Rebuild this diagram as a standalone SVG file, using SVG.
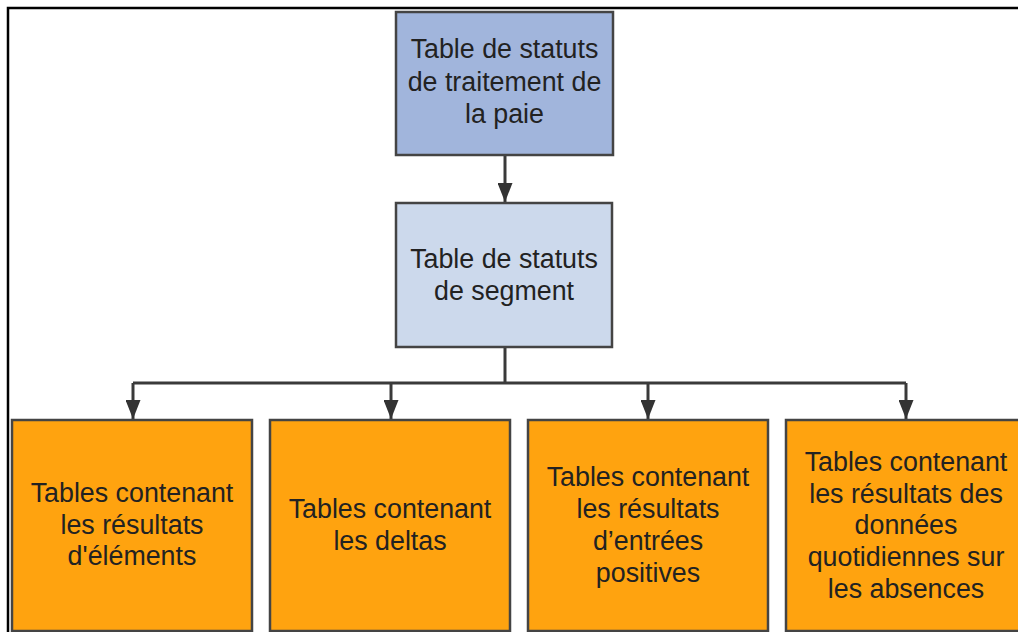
<svg xmlns="http://www.w3.org/2000/svg" width="1018" height="632" viewBox="0 0 1018 632">
  <style>
    .box { stroke: #444444; stroke-width: 2.5; }
    .top { fill: #A1B5DC; }
    .mid { fill: #CCD9EC; }
    .leaf { fill: #FFA30F; }
    .lbl { font-family: "Liberation Sans", Arial, sans-serif; font-size: 26.8px; fill: #222222; text-anchor: middle; }
    .conn { stroke: #3a3a3a; stroke-width: 3; fill: none; }
  </style>
  <defs>
    <marker id="arr" viewBox="0 0 19 15" refX="19" refY="7.5" markerWidth="19" markerHeight="15" markerUnits="userSpaceOnUse" orient="auto">
      <path d="M0,0 L19,7.5 L0,15 z" fill="#333333"/>
    </marker>
  </defs>
  <rect x="0" y="0" width="1018" height="632" fill="#ffffff"/>
  <g id="frame">
    <path d="M8,632 L8,8 L1018,8" fill="none" stroke="#000000" stroke-width="2.5"/>
  </g>
  <g id="connectors">
    <path class="conn" d="M505,155 L505,202" marker-end="url(#arr)"/>
    <path class="conn" d="M505,347 L505,383"/>
    <path class="conn" d="M133,383 L906,383"/>
    <path class="conn" d="M133,383 L133,419" marker-end="url(#arr)"/>
    <path class="conn" d="M391,383 L391,419" marker-end="url(#arr)"/>
    <path class="conn" d="M648,383 L648,419" marker-end="url(#arr)"/>
    <path class="conn" d="M906,383 L906,419" marker-end="url(#arr)"/>
  </g>
  <g id="node-paie">
    <rect class="box top" x="396" y="12" width="217" height="143"/>
    <text class="lbl" x="504.5" y="58">Table de statuts</text>
    <text class="lbl" x="504.5" y="91">de traitement de</text>
    <text class="lbl" x="504.5" y="123">la paie</text>
  </g>
  <g id="node-segment">
    <rect class="box mid" x="396" y="203" width="216" height="144"/>
    <text class="lbl" x="504" y="268">Table de statuts</text>
    <text class="lbl" x="504" y="300">de segment</text>
  </g>
  <g id="node-elements">
    <rect class="box leaf" x="12" y="420" width="240" height="211"/>
    <text class="lbl" x="132" y="502">Tables contenant</text>
    <text class="lbl" x="132" y="534">les résultats</text>
    <text class="lbl" x="132" y="565">d'éléments</text>
  </g>
  <g id="node-deltas">
    <rect class="box leaf" x="270" y="420" width="240" height="211"/>
    <text class="lbl" x="390" y="518">Tables contenant</text>
    <text class="lbl" x="390" y="550">les deltas</text>
  </g>
  <g id="node-entrees">
    <rect class="box leaf" x="528" y="420" width="240" height="211"/>
    <text class="lbl" x="648" y="486">Tables contenant</text>
    <text class="lbl" x="648" y="518">les résultats</text>
    <text class="lbl" x="648" y="550">d’entrées</text>
    <text class="lbl" x="648" y="582">positives</text>
  </g>
  <g id="node-absences">
    <rect class="box leaf" x="786" y="420" width="240" height="211"/>
    <text class="lbl" x="906" y="471">Tables contenant</text>
    <text class="lbl" x="906" y="503">les résultats des</text>
    <text class="lbl" x="906" y="534">données</text>
    <text class="lbl" x="906" y="566">quotidiennes sur</text>
    <text class="lbl" x="906" y="598">les absences</text>
  </g>
</svg>
